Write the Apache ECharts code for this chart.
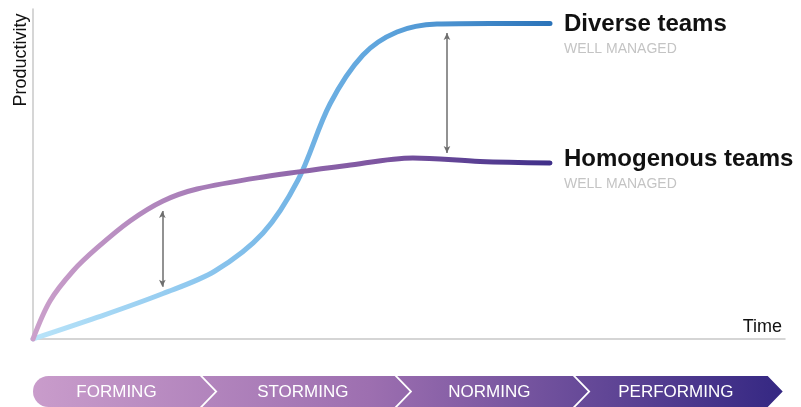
<!DOCTYPE html>
<html>
<head>
<meta charset="utf-8">
<script src="https://cdn.jsdelivr.net/npm/echarts@6/dist/echarts.min.js"></script>
<style>
html,body{margin:0;padding:0;background:#fff;}
#c{width:801px;height:407px;}
</style>
</head>
<body>
<div id="c"></div>
<script>
// ---- data ----
const diverseX = [0, 8.51, 17.29, 24.2, 30.59, 35.24, 39.49, 43.88, 48.4, 53.72, 60.77, 68.75];
const diverseY = [0, 6.52, 13.79, 20.61, 32.12, 48.18, 71.21, 86.06, 93.03, 95.45, 95.61, 95.61];
const homogX = [0, 2.26, 5.32, 8.51, 12.9, 17.29, 21.81, 30.59, 41.76, 50.53, 59.44, 68.75];
const homogY = [0, 11.52, 20.61, 27.58, 35.76, 41.82, 45.45, 49.09, 52.58, 54.85, 53.79, 53.33];
const seriesNames = ['Diverse teams', 'Homogenous teams'];
const seriesSub = 'WELL MANAGED';
const gapArrowX = [17.2, 55.05];
const gapArrowFrom = [15.8, 56.4];
const gapArrowTo = [38.8, 92.7];
const stages = ['FORMING', 'STORMING', 'NORMING', 'PERFORMING'];
const stageStart = [0, 22.2, 48.1, 71.8];
const stageEnd = [22.2, 48.1, 71.8, 97.7];
const axisNames = ['Time', 'Productivity'];

const FONT = "'Liberation Sans', Arial, Helvetica, sans-serif";
const chart = echarts.init(document.getElementById('c'), null, {renderer: 'canvas'});

function pairs(xs, ys) { return xs.map((x, i) => [x, ys[i]]); }
function grad(stops) {
  return new echarts.graphic.LinearGradient(0, 0, 1, 0, stops.map((c, i) => ({offset: i / (stops.length - 1), color: c})));
}
const arrowData = gapArrowX.map((x, i) => [{coord: [x, gapArrowFrom[i]]}, {coord: [x, gapArrowTo[i]]}]);

const DEPTH = 15, GAP = 2.5;
function renderStage(params, api) {
  const i = params.dataIndex;
  const cs = params.coordSys;
  const top = cs.y, bot = cs.y + cs.height, mid = cs.y + cs.height / 2;
  const L = api.coord([api.value(0), 0])[0];
  const R = api.coord([api.value(1), 0])[0];
  const x0 = cs.x, x1 = cs.x + cs.width;
  const fill = new echarts.graphic.LinearGradient(x0, 0, x1 - 5, 0, [
    {offset: 0, color: '#c99ccb'},
    {offset: 0.45, color: '#9d6fb0'},
    {offset: 1, color: '#352883'}
  ], true);
  const children = [];
  let cx;
  if (i === 0) {
    const r = cs.height / 2;
    children.push({type: 'circle', shape: {cx: L + r, cy: mid, r: r}, style: {fill: fill}});
    children.push({type: 'polygon', shape: {points: [[L + r, top], [R, top], [R + DEPTH, mid], [R, bot], [L + r, bot]]}, style: {fill: fill}});
    cx = (L + R) / 2;
  } else {
    const l = L + GAP;
    children.push({type: 'polygon', shape: {points: [[l, top], [R, top], [R + DEPTH, mid], [R, bot], [l, bot], [l + DEPTH, mid]]}, style: {fill: fill}});
    cx = (L + R) / 2 + DEPTH / 2 - 2;
  }
  children.push({type: 'text', style: {text: stages[i], x: cx, y: mid + 0.5, align: 'center', verticalAlign: 'middle', fill: '#ffffff', font: '17px ' + FONT}});
  return {type: 'group', children: children};
}

const option = {
  animation: false,
  backgroundColor: '#ffffff',
  grid: [
    {left: 33, right: 16, top: 9, bottom: 68},
    {left: 33, right: 16, top: 376, height: 31}
  ],
  xAxis: [
    {type: 'value', min: 0, max: 100, gridIndex: 0,
     axisLine: {show: true, lineStyle: {color: '#c8c8c8', width: 1.5}},
     axisTick: {show: false}, axisLabel: {show: false}, splitLine: {show: false}},
    {type: 'value', min: 0, max: 100, gridIndex: 1, show: false}
  ],
  yAxis: [
    {type: 'value', min: 0, max: 100, gridIndex: 0,
     axisLine: {show: true, lineStyle: {color: '#c8c8c8', width: 1.5}},
     axisTick: {show: false}, axisLabel: {show: false}, splitLine: {show: false}},
    {type: 'value', min: 0, max: 1, gridIndex: 1, show: false}
  ],
  series: [
    {
      name: seriesNames[0], type: 'line', smooth: 0.33, showSymbol: false, symbol: 'none',
      data: pairs(diverseX, diverseY), clip: false,
      lineStyle: {width: 5, cap: 'round', color: grad(['#b9e4f9', '#8cc6ee', '#5fa5dd', '#2b73b9'])},
      endLabel: {show: true, distance: 14, offset: [0, 12], align: 'left',
        formatter: '{a|' + seriesNames[0] + '}\n{b|' + seriesSub + '}',
        rich: {a: {fontSize: 24, fontWeight: 'bold', color: '#111', fontFamily: FONT, lineHeight: 28},
               b: {fontSize: 14, color: '#c4c4c4', fontFamily: FONT, lineHeight: 22}}},
      markLine: {silent: true, symbol: ['arrow', 'arrow'], symbolSize: [5, 7],
        lineStyle: {color: '#6e6e6e', width: 1.5, type: 'solid'}, label: {show: false},
        data: arrowData}
    },
    {
      name: seriesNames[1], type: 'line', smooth: 0.33, showSymbol: false, symbol: 'none',
      data: pairs(homogX, homogY), clip: false,
      lineStyle: {width: 5, cap: 'round', color: grad(['#cba0cb', '#a67cb7', '#7d55a0', '#3f2f89'])},
      endLabel: {show: true, distance: 14, offset: [0, 7], align: 'left',
        formatter: '{a|' + seriesNames[1] + '}\n{b|' + seriesSub + '}',
        rich: {a: {fontSize: 24, fontWeight: 'bold', color: '#111', fontFamily: FONT, lineHeight: 28},
               b: {fontSize: 14, color: '#c4c4c4', fontFamily: FONT, lineHeight: 22}}}
    },
    {
      type: 'custom', xAxisIndex: 1, yAxisIndex: 1, silent: true,
      renderItem: renderStage,
      data: stages.map((s, i) => [stageStart[i], stageEnd[i]])
    }
  ],
  graphic: [
    {type: 'text', x: 782, y: 327, style: {text: axisNames[0], align: 'right', verticalAlign: 'middle', font: '18px ' + FONT, fill: '#111'}},
    {type: 'text', x: 21, y: 60, rotation: Math.PI / 2, style: {text: axisNames[1], align: 'center', verticalAlign: 'middle', font: '18px ' + FONT, fill: '#111'}}
  ]
};
chart.setOption(option);
</script>
</body>
</html>
